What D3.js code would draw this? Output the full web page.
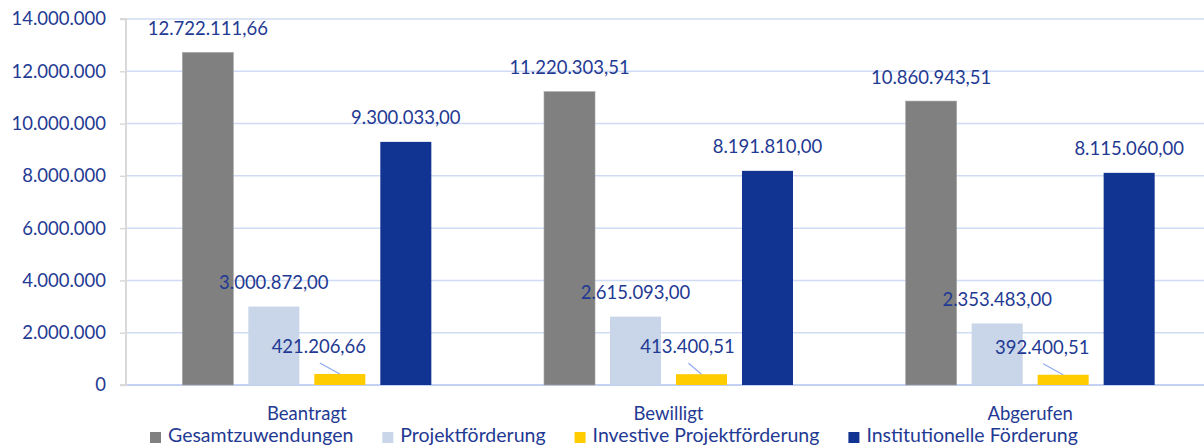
<!DOCTYPE html>
<html><head><meta charset="utf-8">
<script src="https://cdn.jsdelivr.net/npm/d3@7"></script>
<style>html,body{margin:0;padding:0;background:#fff;overflow:hidden}</style>
</head><body>
<svg id="c" width="1204" height="445"></svg>
<script>
const categories = ["Beantragt", "Bewilligt", "Abgerufen"];
const seriesNames = ["Gesamtzuwendungen", "Projektförderung", "Investive Projektförderung", "Institutionelle Förderung"];
const gesamt = [12722111.66, 11220303.51, 10860943.51];
const projekt = [3000872.00, 2615093.00, 2353483.00];
const investiv = [421206.66, 413400.51, 392400.51];
const institutionell = [9300033.00, 8191810.00, 8115060.00];
const yTicks = [0, 2000000, 4000000, 6000000, 8000000, 10000000, 12000000, 14000000];
const colors = ["#808080", "#c9d5e8", "#ffcc00", "#113391"];

(function () {
const values = [gesamt, projekt, investiv, institutionell];
const textColor = "#1f3a93";
const font = "Lato, 'Open Sans', sans-serif";
const fs = 18.5;

const loc = d3.formatLocale({decimal: ",", thousands: ".", grouping: [3], currency: ["", "€"]});
const fmtVal = loc.format(",.2f");
const fmtTick = loc.format(",.0f");

const svg = d3.select("#c");
const pLeft = 126, pRight = 1211, pTop = 19, pBottom = 385;

const y = d3.scaleLinear().domain([0, 14000000]).range([pBottom, pTop]);
const x0 = d3.scaleBand().domain(categories).range([pLeft, pRight]).paddingInner(0).paddingOuter(0);
const groupW = 249;
const x1 = d3.scaleBand().domain(seriesNames).range([0, groupW]).paddingInner(0.227).paddingOuter(0);
const gx = c => x0(c) + x0.bandwidth() / 2 - groupW / 2;

// gridlines
svg.append("g").selectAll("line").data(yTicks).join("line")
  .attr("x1", pLeft).attr("x2", 1204)
  .attr("y1", d => y(d)).attr("y2", d => y(d))
  .attr("stroke", d => d === 0 ? "#c3d1f2" : "#d0dbf6")
  .attr("stroke-width", d => d === 0 ? 2 : 1.5);

// y axis
const yAxis = d3.axisLeft(y).tickValues(yTicks).tickFormat(d => fmtTick(d)).tickSize(6).tickPadding(14);
const ya = svg.append("g").attr("transform", `translate(${pLeft},0)`).call(yAxis);
ya.select(".domain").attr("stroke", "#d9d9d9").attr("stroke-width", 2).attr("d", `M-6,${pBottom}H0V${pTop}H-6`);
ya.selectAll(".tick line").attr("stroke", "#d9d9d9").attr("stroke-width", 1.5);
ya.selectAll(".tick text").attr("fill", textColor).attr("font-family", font).attr("font-size", fs);

// bars
seriesNames.forEach((s, si) => {
  svg.append("g").selectAll("rect").data(categories).join("rect")
    .attr("x", c => gx(c) + x1(s))
    .attr("width", x1.bandwidth())
    .attr("y", (c, i) => y(values[si][i]))
    .attr("height", (c, i) => y(0) - y(values[si][i]))
    .attr("fill", colors[si])
    .attr("stroke", si === 0 ? "#a6a6a6" : "none")
    .attr("stroke-width", 0.6);
});

// value labels
const investShift = [-21, -14, -21];
seriesNames.forEach((s, si) => {
  const g = svg.append("g");
  categories.forEach((c, i) => {
    const v = values[si][i];
    const cx = gx(c) + x1(s) + x1.bandwidth() / 2;
    if (si === 2) {
      const tx = cx + investShift[i];
      g.append("line").attr("x1", tx + 1).attr("y1", y(v) - 11).attr("x2", cx).attr("y2", y(v))
        .attr("stroke", "#8eaaee").attr("stroke-width", 1.2);
      g.append("text").attr("x", tx).attr("y", y(v) - 21)
        .attr("text-anchor", "middle").attr("fill", textColor)
        .attr("font-family", font).attr("font-size", fs).text(fmtVal(v));
    } else {
      g.append("text").attr("x", cx).attr("y", y(v) - 17.5)
        .attr("text-anchor", "middle").attr("fill", textColor)
        .attr("font-family", font).attr("font-size", fs).text(fmtVal(v));
    }
  });
});

// category labels
const xAxis = d3.axisBottom(x0).tickSize(0).tickPadding(0);
const xa = svg.append("g").attr("transform", `translate(0,${pBottom})`).call(xAxis);
xa.select(".domain").remove();
xa.selectAll(".tick text").attr("fill", textColor).attr("font-family", font).attr("font-size", fs)
  .attr("dy", null).attr("y", 35);

// legend
const lg = svg.append("g");
let lx = 150;
seriesNames.forEach((s, si) => {
  lg.append("rect").attr("x", lx).attr("y", 432).attr("width", 11).attr("height", 11).attr("fill", colors[si]);
  const t = lg.append("text").attr("x", lx + 18).attr("y", 442).attr("fill", textColor)
    .attr("font-family", font).attr("font-size", 19.5).text(s);
  lx += 18 + t.node().getComputedTextLength() + 29;
});
})();
</script>
</body></html>
